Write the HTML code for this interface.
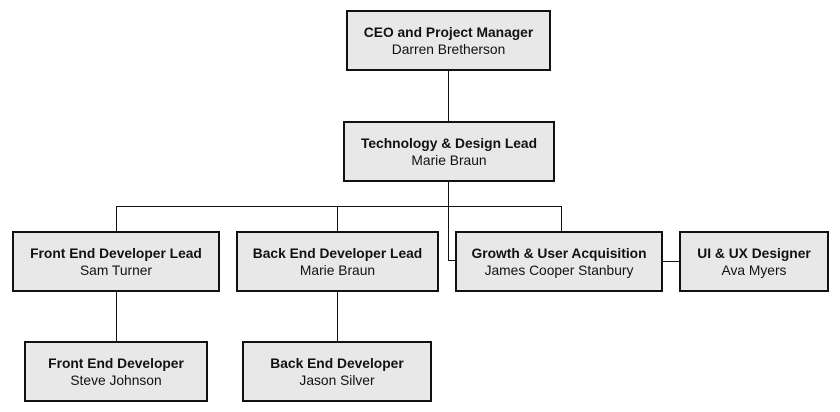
<!DOCTYPE html>
<html><head><style>
body{margin:0;width:840px;height:412px;background:#fff;position:relative;overflow:hidden;font-family:"Liberation Sans",Arial,sans-serif;}
.b{position:absolute;box-sizing:border-box;border:2px solid #111;background:#e8e8e8;text-align:center;font-size:13.8px;color:#111;line-height:17px;display:flex;flex-direction:column;justify-content:center;}
.b b{font-weight:bold;}
.l{position:absolute;background:#111;}
</style></head><body>
<div class="l" style="left:448px;top:70px;width:1px;height:52px"></div>
<div class="l" style="left:448px;top:181px;width:1px;height:80px"></div>
<div class="l" style="left:448px;top:260px;width:8px;height:1px"></div>
<div class="l" style="left:116px;top:206px;width:446px;height:1px"></div>
<div class="l" style="left:116px;top:206px;width:1px;height:26px"></div>
<div class="l" style="left:337px;top:206px;width:1px;height:26px"></div>
<div class="l" style="left:561px;top:206px;width:1px;height:26px"></div>
<div class="l" style="left:662px;top:261px;width:18px;height:1px"></div>
<div class="l" style="left:116px;top:291px;width:1px;height:51px"></div>
<div class="l" style="left:337px;top:291px;width:1px;height:51px"></div>
<div class="b" style="left:346px;top:10px;width:205px;height:61px"><b>CEO and Project Manager</b>Darren Bretherson</div>
<div class="b" style="left:343px;top:121px;width:212px;height:61px"><b>Technology &amp; Design Lead</b>Marie Braun</div>
<div class="b" style="left:12px;top:231px;width:208px;height:61px"><b>Front End Developer Lead</b>Sam Turner</div>
<div class="b" style="left:236px;top:231px;width:203px;height:61px"><b>Back End Developer Lead</b>Marie Braun</div>
<div class="b" style="left:455px;top:231px;width:208px;height:61px"><b>Growth &amp; User Acquisition</b>James Cooper Stanbury</div>
<div class="b" style="left:679px;top:231px;width:150px;height:61px"><b>UI &amp; UX Designer</b>Ava Myers</div>
<div class="b" style="left:24px;top:341px;width:184px;height:61px"><b>Front End Developer</b>Steve Johnson</div>
<div class="b" style="left:242px;top:341px;width:190px;height:61px"><b>Back End Developer</b>Jason Silver</div>
</body></html>
